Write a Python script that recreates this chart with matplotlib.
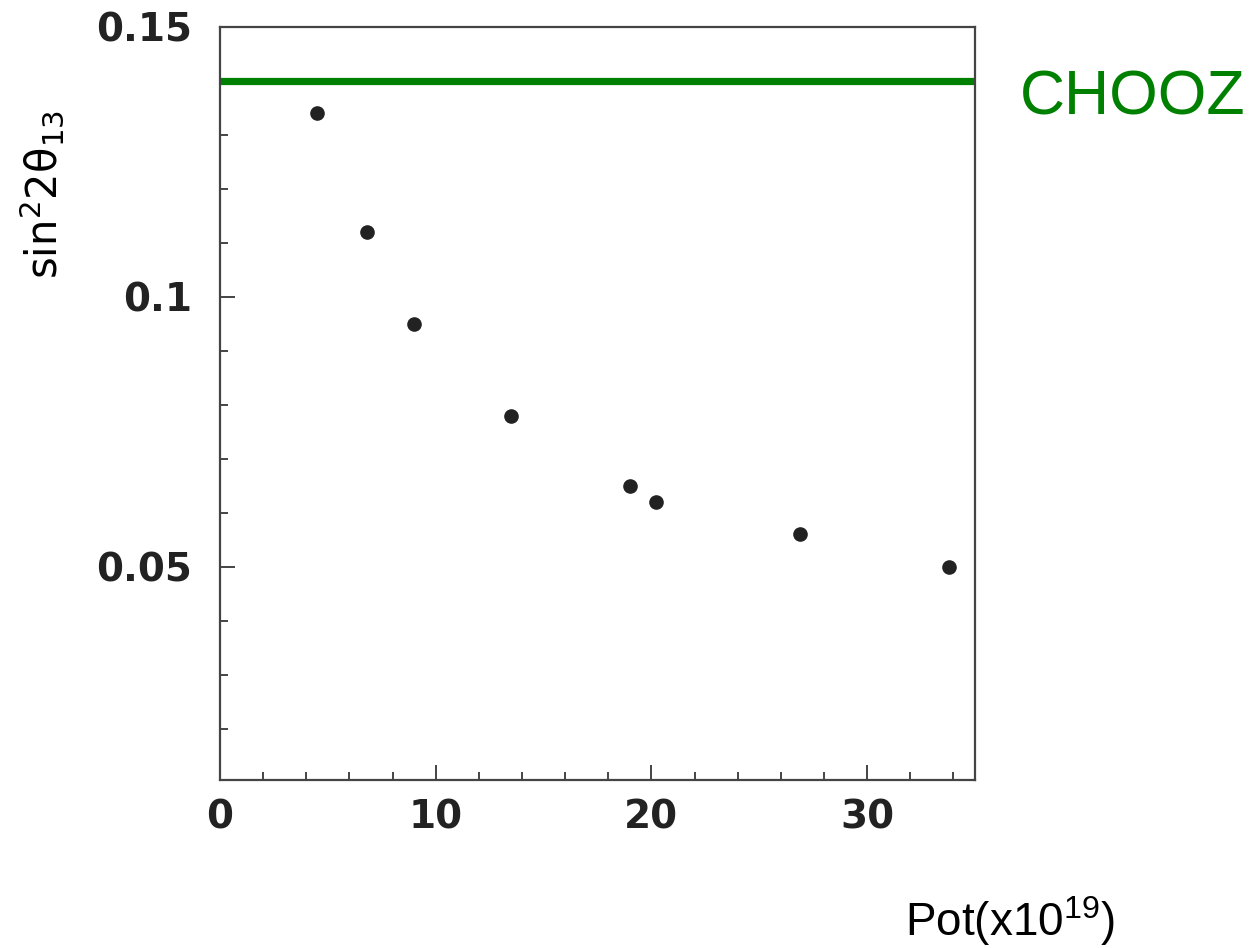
import matplotlib
matplotlib.use("Agg")
import matplotlib.pyplot as plt
from matplotlib.ticker import MultipleLocator

pot = [4.5, 6.8, 9.0, 13.5, 19.0, 20.2, 26.9, 33.8]
sens = [0.134, 0.112, 0.095, 0.078, 0.065, 0.062, 0.056, 0.050]
chooz_limit = 0.14
xticks = [0, 10, 20, 30]
xticklabels = ["0", "10", "20", "30"]
yticks = [0.05, 0.1, 0.15]
yticklabels = ["0.05", "0.1", "0.15"]

plt.rcParams['mathtext.fontset'] = 'custom'
plt.rcParams['mathtext.rm'] = 'Liberation Sans'
plt.rcParams['mathtext.it'] = 'Liberation Sans'

fig = plt.figure(figsize=(12.57, 9.48), dpi=100)
ax = fig.add_axes([220/1257, 1-780/948, (975-220)/1257, (780-27)/948])

ax.axhline(chooz_limit, color='#008000', lw=5.2, zorder=2)
ax.plot(pot, sens, 'o', color='#222222', ms=9.5, zorder=3)

ax.set_xlim(0, 35.0)
ax.set_ylim(0.0105, 0.15)
ax.xaxis.set_major_locator(MultipleLocator(10))
ax.xaxis.set_minor_locator(MultipleLocator(2))
ax.yaxis.set_minor_locator(MultipleLocator(0.01))
ax.set_xticks(xticks)
ax.set_xticklabels(xticklabels)
ax.set_yticks(yticks)
ax.set_yticklabels(yticklabels)

for s in ax.spines.values():
    s.set_color('#444444')
    s.set_linewidth(1.6)

ax.tick_params(which='both', direction='in', color='#444444', width=1.4,
               top=False, right=False)
ax.tick_params(which='major', length=11)
ax.tick_params(which='minor', length=6)
ax.tick_params(axis='x', which='major', pad=13)
ax.tick_params(axis='y', which='major', pad=20)
for lab in ax.get_xticklabels() + ax.get_yticklabels():
    lab.set_fontfamily('DejaVu Sans')
    lab.set_fontweight('bold')
    lab.set_fontsize(28)
    lab.set_color('#222222')

fig.text(1020/1257, 1-98/948, 'CHOOZ', color='#008000', fontsize=45,
         family='Liberation Sans', va='center', ha='left')
fig.text(905/1257, 1-936/948, r'Pot(x10$^{\mathregular{19}}$)', color='black',
         fontsize=33, family='Liberation Sans', va='baseline', ha='left')
fig.text(42/1257, 1-195/948, r'$\mathregular{sin^{2}2\theta_{13}}$', color='black',
         fontsize=30, rotation=90, va='center', ha='center')

fig.savefig('out.png', dpi=100, facecolor='white')
